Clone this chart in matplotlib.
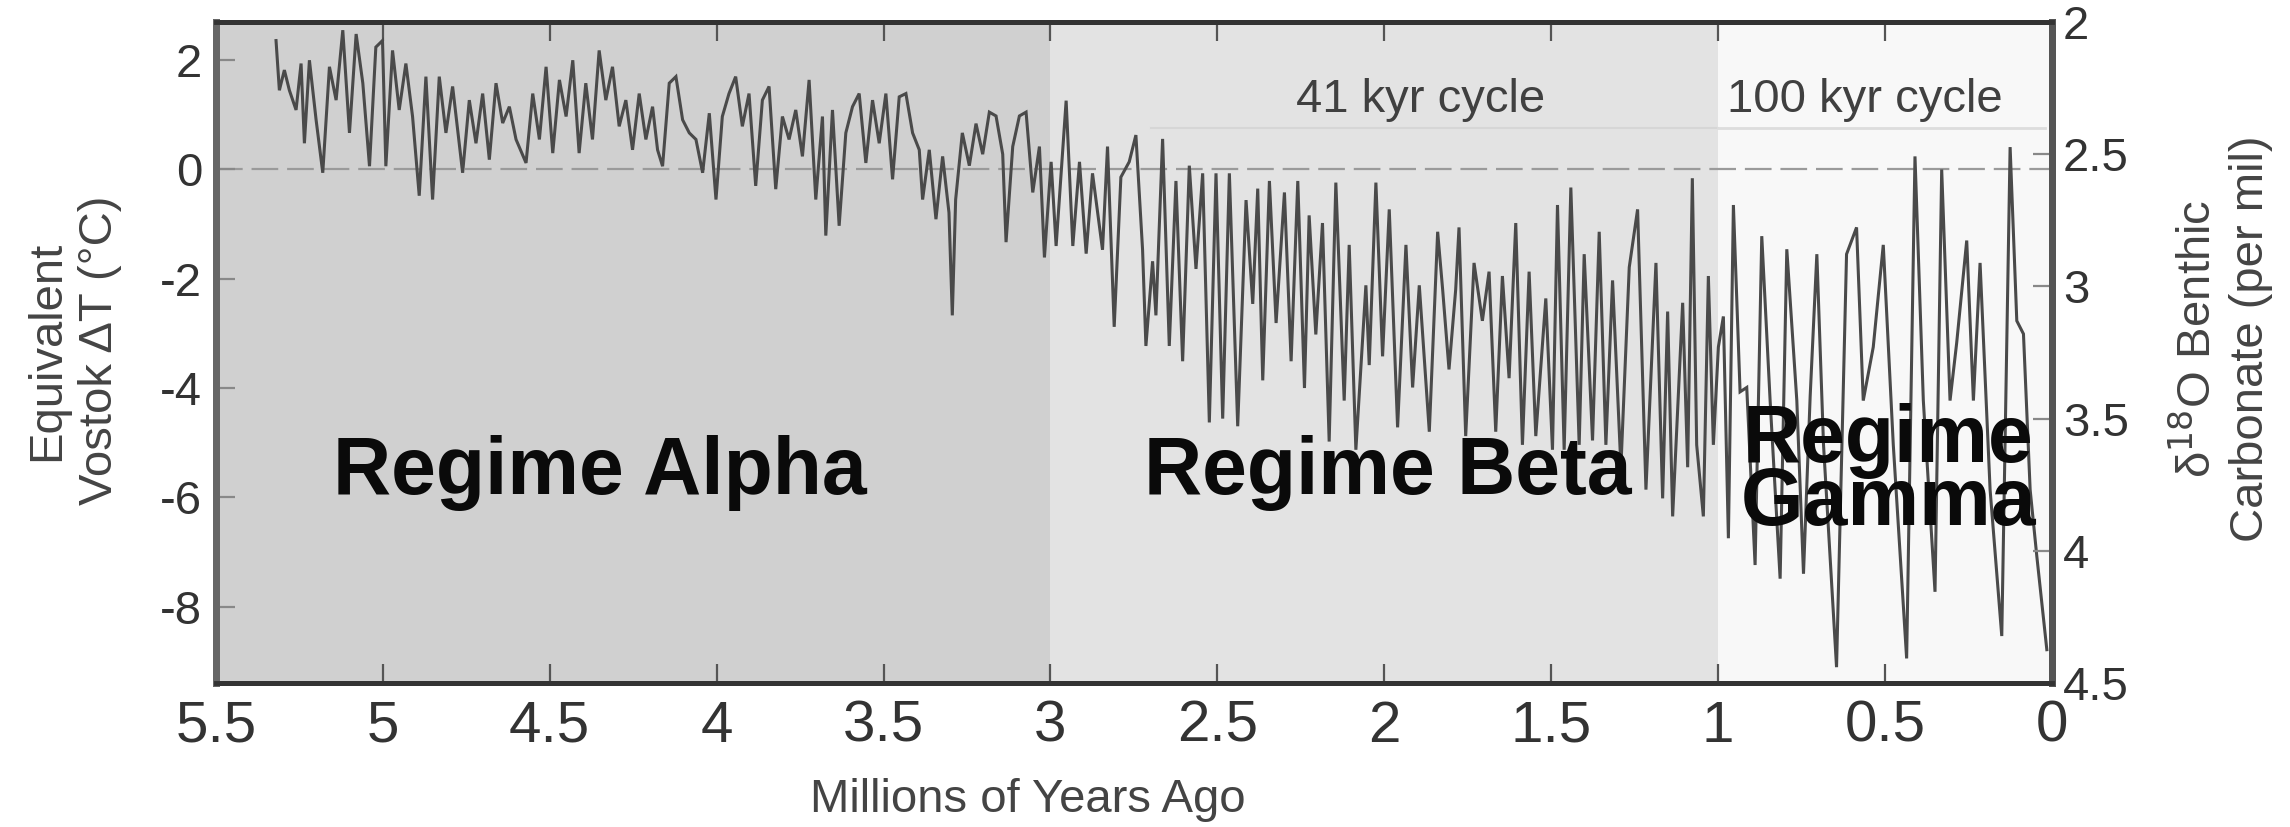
import matplotlib
matplotlib.use("Agg")
import matplotlib.pyplot as plt
from matplotlib import font_manager

# ---------------- data ----------------
alpha_age = [5.320, 5.310, 5.295, 5.280, 5.260, 5.245, 5.235, 5.220, 5.200, 5.180,
             5.160, 5.140, 5.120, 5.100, 5.080, 5.060, 5.040, 5.021, 5.001, 4.991,
             4.971, 4.951, 4.931, 4.911, 4.891, 4.871, 4.851, 4.831, 4.811, 4.791,
             4.761, 4.741, 4.721, 4.701, 4.681, 4.661, 4.641, 4.621, 4.601, 4.571,
             4.551, 4.531, 4.511, 4.491, 4.471, 4.451, 4.431, 4.412, 4.392, 4.372,
             4.352, 4.332, 4.312, 4.292, 4.272, 4.252, 4.232, 4.212, 4.192, 4.177,
             4.162, 4.142, 4.122, 4.102, 4.082, 4.062, 4.042, 4.022, 4.002, 3.983,
             3.963, 3.943, 3.923, 3.903, 3.883, 3.863, 3.843, 3.823, 3.803, 3.783,
             3.763, 3.743, 3.723, 3.703, 3.683, 3.673, 3.653, 3.633, 3.613, 3.593,
             3.573, 3.553, 3.533, 3.513, 3.493, 3.473, 3.453, 3.433, 3.413, 3.393,
             3.383, 3.363, 3.343, 3.323, 3.304, 3.294, 3.284, 3.264, 3.243, 3.223,
             3.203, 3.183, 3.163, 3.143, 3.133, 3.113, 3.093, 3.073, 3.053, 3.033,
             3.018]
alpha_T = [2.36, 1.45, 1.82, 1.45, 1.09, 1.94, 0.48, 2.00, 0.91, -0.06,
           1.88, 1.27, 2.55, 0.67, 2.48, 1.58, 0.06, 2.24, 2.36, 0.06,
           2.18, 1.09, 1.94, 0.97, -0.48, 1.70, -0.55, 1.70, 0.67, 1.52,
           -0.06, 1.27, 0.48, 1.39, 0.18, 1.58, 0.85, 1.15, 0.55, 0.12,
           1.39, 0.55, 1.88, 0.30, 1.64, 0.97, 2.00, 0.30, 1.58, 0.55,
           2.18, 1.27, 1.88, 0.79, 1.27, 0.36, 1.39, 0.55, 1.15, 0.36,
           0.06, 1.58, 1.70, 0.91, 0.67, 0.55, -0.06, 1.03, -0.55, 0.97,
           1.39, 1.70, 0.79, 1.39, -0.30, 1.27, 1.52, -0.36, 0.97, 0.55,
           1.09, 0.24, 1.64, -0.55, 0.97, -1.21, 1.09, -1.03, 0.67, 1.15,
           1.39, 0.12, 1.27, 0.48, 1.39, -0.18, 1.33, 1.39, 0.67, 0.36,
           -0.55, 0.36, -0.91, 0.24, -0.79, -2.67, -0.55, 0.67, 0.07, 0.84,
           0.28, 1.05, 0.98, 0.28, -1.33, 0.42, 0.98, 1.05, -0.42, 0.42,
           -1.61]

beta_age = [2.998, 2.983, 2.953, 2.933, 2.913, 2.893, 2.874, 2.844, 2.829, 2.809,
            2.789, 2.764, 2.744, 2.724, 2.714, 2.694, 2.684, 2.664, 2.644, 2.624,
            2.604, 2.584, 2.564, 2.544, 2.524, 2.504, 2.484, 2.464, 2.439, 2.414,
            2.394, 2.379, 2.364, 2.344, 2.324, 2.299, 2.279, 2.259, 2.239, 2.225,
            2.205, 2.185, 2.165, 2.145, 2.120, 2.105, 2.085, 2.055, 2.045, 2.025,
            2.005, 1.985, 1.960, 1.935, 1.915, 1.895, 1.865, 1.840, 1.825, 1.806,
            1.786, 1.776, 1.756, 1.731, 1.706, 1.686, 1.666, 1.646, 1.626, 1.606,
            1.586, 1.566, 1.546, 1.516, 1.496, 1.481, 1.461, 1.441, 1.416, 1.401,
            1.376, 1.356, 1.336, 1.316, 1.291, 1.266, 1.241, 1.216, 1.186, 1.166,
            1.151, 1.136, 1.106, 1.091, 1.077]
beta_T = [0.14, -1.40, 1.26, -1.40, 0.14, -1.54, -0.07, -1.47, 0.42, -2.88,
          -0.14, 0.14, 0.63, -1.47, -3.23, -1.68, -2.67, 0.56, -3.23, -0.21,
          -3.51, 0.07, -1.82, -0.07, -4.63, -0.07, -4.56, -0.07, -4.70, -0.56,
          -2.46, -0.35, -3.86, -0.21, -2.81, -0.42, -3.51, -0.21, -4.00, -0.84,
          -3.02, -0.98, -4.98, -0.24, -4.23, -1.38, -5.13, -2.12, -3.58, -0.24,
          -3.42, -0.73, -4.72, -1.38, -3.99, -2.12, -4.80, -1.14, -2.20, -3.66,
          -2.20, -1.06, -4.88, -1.71, -2.77, -1.87, -4.80, -1.95, -3.82, -0.98,
          -5.04, -1.87, -4.88, -2.36, -5.13, -0.65, -5.13, -0.33, -5.04, -1.55,
          -4.96, -1.14, -5.04, -2.03, -5.45, -1.79, -0.73, -5.86, -1.71, -6.02,
          -2.60, -6.35, -2.44, -5.45, -0.16]

gamma_age = [1.064, 1.044, 1.029, 1.014, 0.999, 0.984, 0.969, 0.954, 0.934, 0.914,
             0.889, 0.869, 0.844, 0.814, 0.794, 0.764, 0.744, 0.724, 0.704, 0.684,
             0.645, 0.615, 0.585, 0.565, 0.535, 0.505, 0.475, 0.435, 0.410, 0.385,
             0.350, 0.330, 0.305, 0.285, 0.255, 0.235, 0.215, 0.185, 0.150, 0.125,
             0.105, 0.085, 0.065, 0.045, 0.015]
gamma_T = [-5.04, -6.35, -1.95, -5.04, -3.25, -2.69, -6.75, -0.65, -4.07, -3.99,
           -7.24, -1.22, -4.23, -7.49, -1.46, -4.23, -7.40, -4.15, -1.55, -5.04,
           -9.11, -1.55, -1.06, -4.23, -3.25, -1.38, -5.04, -8.95, 0.24, -4.23,
           -7.73, 0.00, -4.23, -3.17, -1.30, -4.23, -1.71, -5.86, -8.54, 0.41,
           -2.77, -3.01, -5.86, -7.08, -8.79]

regime_bounds = [5.5, 3.0, 1.0, 0.0]
regime_names = ["Regime Alpha", "Regime Beta", "Regime\nGamma"]
regime_label_x = [4.35, 1.99, 0.49]
x_ticks = [5.5, 5, 4.5, 4, 3.5, 3, 2.5, 2, 1.5, 1, 0.5, 0]
x_tick_labels = ["5.5", "5", "4.5", "4", "3.5", "3", "2.5", "2", "1.5", "1", "0.5", "0"]
y_ticks = [-8, -6, -4, -2, 0, 2]
y_tick_labels = ["-8", "-6", "-4", "-2", "0", "2"]
d18o_ticks = [2, 2.5, 3, 3.5, 4, 4.5]
d18o_tick_labels = ["2", "2.5", "3", "3.5", "4", "4.5"]

# ---------------- styling ----------------
names = {f.name for f in font_manager.fontManager.ttflist}
narrow = "Liberation Sans Narrow" if "Liberation Sans Narrow" in names else "Liberation Sans"
plt.rcParams["axes.unicode_minus"] = False
plt.rcParams["font.family"] = ["Liberation Sans", "DejaVu Sans"]

fig = plt.figure(figsize=(22.9, 8.27), dpi=100)
ax = fig.add_axes([0.0943, 0.1741, 0.8017, 0.7993])

region_colors = ["#d0d0d0", "#e3e3e3", "#f8f8f8"]
for i in range(3):
    ax.axvspan(regime_bounds[i], regime_bounds[i + 1], color=region_colors[i], lw=0, zorder=0)

ax.axhline(0, color="#9a9a9a", lw=1.6, ls=(0, (12, 4)), zorder=1)

ages = alpha_age + beta_age + gamma_age
temps = alpha_T + beta_T + gamma_T
ax.plot(ages, temps, color="#4a4a4a", lw=2.2, zorder=2, solid_joinstyle="miter")

# cycle annotations
ax.plot([2.7, 1.0], [0.76, 0.76], color="#d6d6d6", lw=1.5, zorder=1)
ax.plot([1.0, 0.02], [0.76, 0.76], color="#dddddd", lw=2.0, zorder=1)
ax.text(1.89, 1.28, "41 kyr cycle", ha="center", va="center", fontsize=34, color="#404040", zorder=3)
ax.text(0.56, 1.28, "100 kyr cycle", ha="center", va="center", fontsize=34, color="#404040", zorder=3)

for name, xpos in zip(regime_names, regime_label_x):
    ax.text(xpos, -5.55, name, ha="center", va="center", fontsize=58, fontweight="bold",
            color="#0a0a0a", linespacing=0.78, zorder=4)

ax.set_xlim(5.5, 0)
ax.set_ylim(-9.4, 2.7)
ax.set_xticks(x_ticks)
ax.set_xticklabels(x_tick_labels, fontfamily=narrow, fontsize=42, color="#333333")
ax.set_yticks(y_ticks)
ax.set_yticklabels(y_tick_labels, fontfamily=narrow, fontsize=34, color="#333333")
ax.tick_params(axis="x", direction="in", length=14, width=1.6, color="#555555",
               top=True, pad=12)
ax.tick_params(axis="y", direction="in", length=14, width=1.6, color="#888888", pad=10)

ax2 = ax.twinx()
ax2.set_ylim(4.5, 2.0)
ax2.set_yticks(d18o_ticks)
ax2.set_yticklabels(d18o_tick_labels, fontfamily=narrow, fontsize=34, color="#333333")
ax2.tick_params(axis="y", direction="in", length=14, width=1.6, color="#888888", pad=8)

for a in (ax, ax2):
    for side in ("top", "bottom"):
        a.spines[side].set_color("#333333")
        a.spines[side].set_linewidth(3.5)
    a.spines["left"].set_color("#666666")
    a.spines["left"].set_linewidth(5)
    a.spines["right"].set_color("#555555")
    a.spines["right"].set_linewidth(5)

fig.text(0.449, 0.033, "Millions of Years Ago", ha="center", va="center",
         fontfamily=narrow, fontsize=34, color="#444444")
fig.text(0.032, 0.576, "Equivalent\nVostok ΔT (°C)", ha="center", va="center", rotation=90,
         fontfamily=[narrow, "DejaVu Sans"], fontsize=34, color="#444444", linespacing=1.25,
         multialignment="center")
fig.text(0.971, 0.59, "δ$^{18}$O Benthic\nCarbonate (per mil)", ha="center", va="center",
         rotation=90, fontfamily=[narrow, "DejaVu Sans"], fontsize=34, color="#444444",
         linespacing=1.25, multialignment="center")

fig.savefig("out.png", dpi=100)
